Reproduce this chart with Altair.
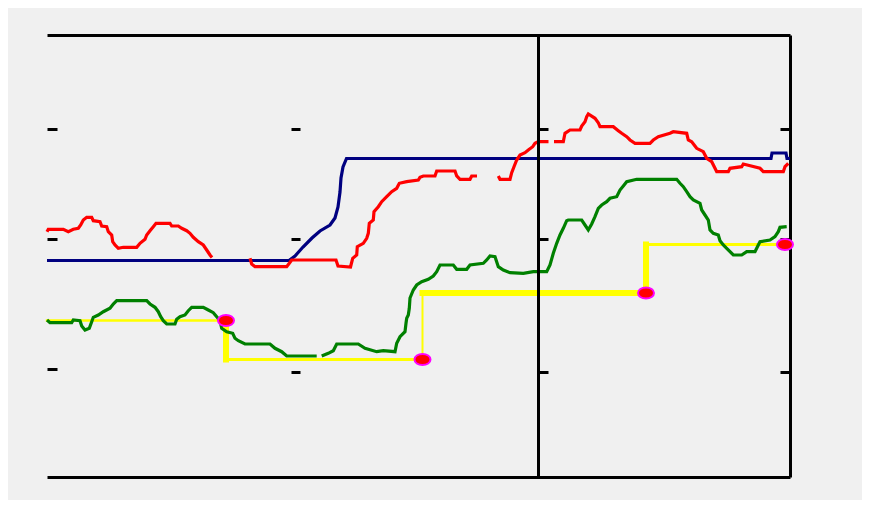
import altair as alt
import pandas as pd

# ---------------- data (x: time units 0..743, y: value units 0..442) ----------------
navy_x = [0, 242, 248, 256, 265, 273, 283, 288, 291, 293, 294, 296, 299.5, 724, 725, 739, 740, 743]
navy_y = [216.5, 216.5, 221, 230, 239, 246, 252, 259, 270, 285, 299, 310, 318.5, 318.5, 324, 324, 318.5, 318.5]

# None marks a gap in the series
red_x = [0, 1.3, 9.7, 16.3, 21.3, 26.3, 31.3, 33.7, 36.3, 39.7, 44.7, 46.3, 53, 54.7, 59.7, 61.3,
         64.7, 65.7, 68, 71.3, 76.3, 89.7, 93, 98, 99.7, 103, 106.3, 109, 123, 124.7, 131.3, 134.7,
         139.7, 143, 146.3, 151.3, 156.3, 159.7, 163, 165, None,
         203, 204.7, 208, 239.7, 242.3, 244.7, 289, 291, 303.5, 305.7, 309.7, 310.3, 316.3, 319.7,
         321.3, 322.3, 326.3, 327, 331.3, 334.7, 339.7, 344.7, 349.7, 352.3, 359.7, 371.3, 373,
         376.3, 388, 389.7, 408, 409.7, 413, 423, 424.7, 430, None,
         451.3, 453, 463, 464.7, 467, 469.7, 473, 478, 481.3, 485.7, 488, 491.3, 501.5, None,
         507, 516.3, 518, 523, 533, 534.7, 538, 539.7, 541.3, 548, 551.3, 553, 566.3, 571.3, 574.7,
         579.7, 583, 588, 603, 606.3, 611.3, 623, 626.3, 639.7, 641.3, 644.7, 649.7, 656.3, 659.7,
         664.7, 668, 669.7, 681.3, 683, 694.7, 696.3, 713, 716.3, 736.3, 738, 741.3]
red_y = [245.3, 247.7, 247.7, 247.7, 245.3, 247.7, 248.7, 252, 257, 259.7, 259.7, 256.3, 255.3, 251, 250.3, 245.3,
         242, 235.3, 232, 228.7, 229.7, 229.7, 233.7, 237.7, 242, 246.3, 250.3, 253.7, 253.7, 251, 251, 248.7,
         246.3, 243.7, 239.7, 235.3, 232, 227, 222, 219.5, None,
         218.7, 213, 210.3, 210.3, 213.7, 217, 217, 211, 210, 218.7, 222, 230.3, 233.7, 238.7,
         243.7, 253.7, 257, 265.3, 270.3, 275.3, 280.3, 285.3, 288.7, 293.7, 295.3, 297, 299.7,
         301, 301, 306, 306, 301, 297.7, 297.7, 301, 301, None,
         301, 297.7, 297.7, 304.3, 310.3, 317, 322, 324.3, 327, 330.3, 333.7, 335.3, 335.3, None,
         335.3, 335.3, 343.7, 347, 347, 351, 355.3, 360.3, 363, 358.7, 354.3, 350.3, 350.3, 346.3, 343.7,
         340.3, 337, 333.7, 333.7, 337, 340.3, 343.7, 345.3, 343.7, 337, 335.3, 328.7, 325.3, 318.7,
         315.3, 308.7, 305.3, 305.3, 308.7, 310.3, 313, 308.7, 305.3, 305.3, 310.3, 313.7]

green_x = [0, 3, 24.7, 26.3, 33, 34.7, 38, 42.3, 44.7, 46.3, 51.3, 56.3, 63, 66.3, 69.7, 99.7, 103, 108,
           111.3, 113.7, 116.3, 119.7, 128, 129.7, 133, 138, 141.3, 144.7, 156.3, 161.3, 166.3, 169.7,
           173, 174.7, 179.7, 185.7, 188, 191.3, 198, 223, 228, 234.7, 239.7, 269.7, None,
           274.7, 281.3, 286.3, 289.7, 311.3, 318, 329.7, 336.3, 348, 349.7, 353, 358, 359, 359.7,
           361.3, 362.3, 363, 366.3, 369.7, 374.7, 381.3, 386.3, 389.7, 393, 406.3, 409.7, 419.7, 423,
           436.3, 439.7, 443, 448, 451.3, 456.3, 463, 476.3, 486.3, 499.7, 503, 506.3, 509.7, 513,
           516.3, 519.7, 521.3, 534.7, 538, 541.3, 544.7, 548, 551.3, 554.7, 559.7, 563, 569.7, 573,
           576.3, 579.7, 589.7, 629.7, 633, 636.3, 639.7, 643, 646.3, 653, 654.7, 658, 661.3, 663,
           666.3, 671.3, 673, 676.3, 679.7, 683, 686.3, 694.7, 699.7, 708, 711.3, 713, 723, 728,
           731.3, 733, 739.7]
green_y = [157, 154.3, 154.3, 157, 156.3, 151, 147, 148.7, 155.3, 159.7, 162, 165.3, 168.7, 173, 176.3, 176.3, 173, 169.7,
           165.3, 160.3, 156.3, 153, 153, 157.7, 160.3, 162, 166.3, 169.7, 169.7, 167, 164.3, 160.3,
           156.3, 148.7, 145.3, 143.7, 138.7, 136.3, 133, 133, 128.7, 125.3, 121, 121, None,
           121, 123.7, 126.3, 133, 133, 128.7, 125.3, 126.3, 125.3, 133.7, 140.3, 145.3, 153.7, 158.7,
           162, 168.7, 179, 187, 192, 195.3, 197.7, 201, 205.3, 212, 212, 207.7, 207.7, 212,
           213.7, 217, 221, 220.3, 210.3, 207, 204.3, 203.7, 205.3, 205.3, 212, 223.7, 233.7, 242,
           248.7, 256.3, 257, 257, 252, 247, 253, 260.3, 268.7, 272, 275.3, 278.7, 280.3, 287,
           291, 295.3, 297.7, 297.7, 293.7, 290.3, 285.3, 280.3, 277, 273.7, 267, 262, 257, 247,
           243.7, 242, 236.3, 232, 228.7, 225.3, 222, 222, 225.3, 225.3, 232, 235.3, 237, 240.3,
           245.3, 249.7, 250.3]

# step series: change points and the level held until each change point
step_x = [0, 179, 375.5, 599, 738]
step_y = [156.5, 117.5, 184, 232.5]

# unlabeled tick positions
ticks_left = [348, 238.5, 108.5]
ticks_right = [348, 238.5, 105.5]
divider_x = 491
mid_tick_x = 253

# ---------------- styles ----------------
W, H = 743, 442
step_h_widths = [2.5, 3, 6, 3]
step_v_widths = [6, 2, 6]


def split(xs, ys):
    rows, seg = [], 0
    for x, y in zip(xs, ys):
        if x is None or y is None:
            seg += 1
            continue
        rows.append({"x": x, "y": y, "seg": seg})
    return pd.DataFrame(rows)


navy = split(navy_x, navy_y)
red = split(red_x, red_y)
green = split(green_x, green_y)

seg_rows = []
for i in range(len(step_y)):
    seg_rows.append({"x": step_x[i], "x2": step_x[i + 1], "y": step_y[i], "y2": step_y[i], "w": step_h_widths[i]})
for i in range(len(step_y) - 1):
    seg_rows.append({"x": step_x[i + 1], "x2": step_x[i + 1], "y": step_y[i], "y2": step_y[i + 1], "w": step_v_widths[i]})
steps = pd.DataFrame(seg_rows)
markers = pd.DataFrame({"x": step_x[1:], "y": step_y})

xs = alt.Scale(domain=[0, W], nice=False, zero=False)
ys = alt.Scale(domain=[0, H], nice=False, zero=False)

common = dict(labels=False, title=None, grid=False, tickColor="black", tickWidth=3,
              domainColor="black", domainWidth=3)

x_bottom = alt.Axis(orient="bottom", ticks=False, domain=True, zindex=1, **common)
x_top = alt.Axis(orient="top", ticks=False, domain=True, zindex=1, **common)
y_left = alt.Axis(orient="right", offset=-W, values=ticks_left, tickSize=10, domain=False, zindex=1, **common)
y_div = alt.Axis(orient="right", offset=-(W - divider_x), values=ticks_right, tickSize=10, domain=True,
                 zindex=1, **common)
y_right = alt.Axis(orient="left", offset=-W, values=ticks_right, tickSize=10, domain=True, zindex=0, **common)
y_mid = alt.Axis(orient="left", offset=-mid_tick_x, values=ticks_right, tickSize=9, domain=False, zindex=1,
                 **common)

step_layer = alt.Chart(steps).mark_rule(color="#ffff00", strokeCap="square").encode(
    x=alt.X("x:Q", scale=xs, axis=x_bottom),
    x2="x2:Q",
    y=alt.Y("y:Q", scale=ys, axis=y_left),
    y2="y2:Q",
    strokeWidth=alt.StrokeWidth("w:Q", scale=None, legend=None),
)

navy_layer = alt.Chart(navy).mark_line(color="#000080", strokeWidth=3.2).encode(
    x=alt.X("x:Q", scale=xs, axis=x_top),
    y=alt.Y("y:Q", scale=ys, axis=y_div),
    detail="seg:N",
)

red_layer = alt.Chart(red).mark_line(color="#ff0000", strokeWidth=3.2).encode(
    x=alt.X("x:Q", scale=xs, axis=None),
    y=alt.Y("y:Q", scale=ys, axis=y_right),
    detail="seg:N",
)

green_layer = alt.Chart(green).mark_line(color="#008000", strokeWidth=3.2).encode(
    x=alt.X("x:Q", scale=xs, axis=None),
    y=alt.Y("y:Q", scale=ys, axis=y_mid),
    detail="seg:N",
)

marker_layer = alt.Chart(markers).mark_point(
    shape="M-1,0A1,0.7,0,1,1,1,0A1,0.7,0,1,1,-1,0Z",
    size=256, filled=True, fill="#ff0000", stroke="#ff00ff", strokeWidth=2, opacity=1,
).encode(
    x=alt.X("x:Q", scale=xs, axis=None),
    y=alt.Y("y:Q", scale=ys, axis=None),
)

chart = alt.layer(step_layer, navy_layer, red_layer, green_layer, marker_layer).resolve_axis(
    x="independent", y="independent"
).properties(
    width=W, height=H,
    autosize=alt.AutoSizeParams(type="none"),
    padding={"left": 39, "top": 27, "right": 72, "bottom": 23},
    background="#f0f0f0",
).configure_view(stroke=None)

chart.save("out.html", embed_options={"renderer": "svg", "actions": False})
